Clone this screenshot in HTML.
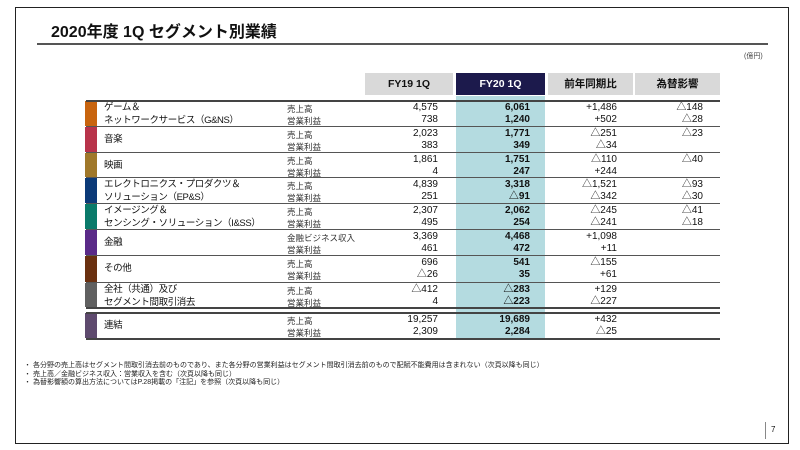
<!DOCTYPE html>
<html><head><meta charset="utf-8"><style>
*{margin:0;padding:0;box-sizing:border-box}
body{width:800px;height:450px;background:#fff;position:relative;overflow:hidden;font-family:"Liberation Sans","Noto Sans CJK JP",sans-serif;color:#111}
.a{position:absolute;white-space:nowrap}
.frame{position:absolute;left:15px;top:7px;width:774px;height:437px;border:1.5px solid #222}
.hl{position:absolute;left:86px;width:634px;height:1px;background:#555}
.bar{position:absolute;left:85px;width:12px}
.lab{position:absolute;left:104px;font-size:9.5px;line-height:13px;white-space:nowrap;letter-spacing:-0.4px}
.sub{position:absolute;left:287px;font-size:8.5px;line-height:12px;color:#333}
.n{position:absolute;font-size:10px;line-height:12px;height:12px;text-align:right;width:80px;overflow:visible}
.h{position:absolute;top:73px;height:22px;font-size:10.5px;font-weight:bold;text-align:center;line-height:22px;background:#d9d9d9}
</style></head><body>
<div class="frame"></div>
<div class="a" style="left:51px;top:23px;font-size:16px;line-height:20px;font-weight:bold">2020年度 1Q セグメント別業績</div>
<div class="a" style="left:37px;top:43px;width:731px;height:1.5px;background:#555"></div>
<div class="a" style="left:744px;top:51px;font-size:7px;color:#444">(億円)</div>
<div class="h" style="left:365px;width:88px">FY19 1Q</div>
<div class="h" style="left:456px;width:89px;background:#1c1a4c;color:#fff">FY20 1Q</div>
<div class="h" style="left:548px;width:85px">前年同期比</div>
<div class="h" style="left:635px;width:85px">為替影響</div>
<div class="a" style="left:456px;top:96px;width:89px;height:243px;background:#b4dbe0"></div>
<div id="t"></div>
<script>
var rows=[
["ゲーム＆<br>ネットワークサービス（G&NS）","#c8640e",["売上高","営業利益"],["4,575","738"],["6,061","1,240"],["+1,486","+502"],["△148","△28"]],
["音楽","#b8334a",["売上高","営業利益"],["2,023","383"],["1,771","349"],["△251","△34"],["△23",""]],
["映画","#a0782a",["売上高","営業利益"],["1,861","4"],["1,751","247"],["△110","+244"],["△40",""]],
["エレクトロニクス・プロダクツ＆<br>ソリューション（EP&S）","#0b3a78",["売上高","営業利益"],["4,839","251"],["3,318","△91"],["△1,521","△342"],["△93","△30"]],
["イメージング＆<br>センシング・ソリューション（I&SS）","#0a7a6a",["売上高","営業利益"],["2,307","495"],["2,062","254"],["△245","△241"],["△41","△18"]],
["金融","#5a2a88",["金融ビジネス収入","営業利益"],["3,369","461"],["4,468","472"],["+1,098","+11"],["",""]],
["その他","#6a3010",["売上高","営業利益"],["696","△26"],["541","35"],["△155","+61"],["",""]],
["全社（共通）及び<br>セグメント間取引消去","#606060",["売上高","営業利益"],["△412","4"],["△283","△223"],["+129","△227"],["",""]],
["連結","#5e4a6e",["売上高","営業利益"],["19,257","2,309"],["19,689","2,284"],["+432","△25"],["",""]]];
var tops=[100,126,152,177,203,229,255,282,312],h="";
rows.forEach(function(r,i){var t=tops[i],hh=(i==8?338:(i==7?307:tops[i+1]))-t;
h+='<div class="bar" style="top:'+(t+1)+'px;height:'+(hh-1)+'px;background:'+r[1]+'"></div>';
var two=r[0].indexOf("<br>")>0;
h+='<div class="lab" style="top:'+(t+(two?0.5:6.5))+'px">'+r[0]+'</div>';
for(var k=0;k<2;k++){var y=t+1.5+k*12.5;
h+='<div class="sub a" style="top:'+(y+1)+'px">'+r[2][k]+'</div>';
h+='<div class="n" style="left:358px;top:'+y+'px">'+r[3][k]+'</div>';
h+='<div class="n" style="left:450px;top:'+y+'px;font-weight:bold">'+r[4][k]+'</div>';
h+='<div class="n" style="left:537px;top:'+y+'px">'+r[5][k]+'</div>';
h+='<div class="n" style="left:623px;top:'+y+'px">'+r[6][k]+'</div>';}
});
[100,126,152,177,203,229,255,282,307,312,338].forEach(function(y){h+='<div class="hl" style="top:'+y+'px;'+(y==100||y==338||y==307||y==312?'height:1.5px;background:#444':'')+'"></div>';});
document.getElementById("t").innerHTML=h;
</script>
<div class="a" style="left:24px;top:362px;font-size:7px;line-height:8.5px;color:#222">・ 各分野の売上高はセグメント間取引消去前のものであり、また各分野の営業利益はセグメント間取引消去前のもので配賦不能費用は含まれない（次頁以降も同じ）<br>・ 売上高／金融ビジネス収入：営業収入を含む（次頁以降も同じ）<br>・ 為替影響額の算出方法についてはP.28掲載の「注記」を参照（次頁以降も同じ）</div>
<div class="a" style="left:765px;top:422px;width:1px;height:17px;background:#888"></div>
<div class="a" style="left:771px;top:425px;font-size:8px">7</div>
</body></html>
